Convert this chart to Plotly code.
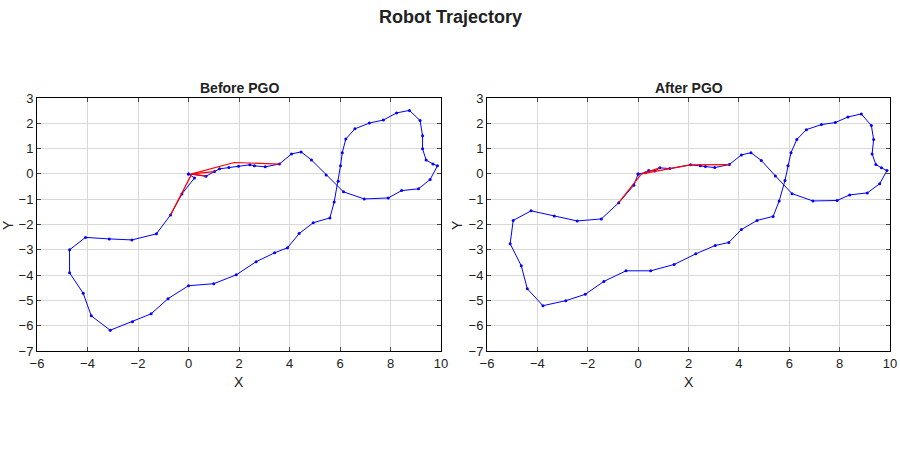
import plotly.graph_objects as go

before_x = [0, 0.24, -0.26, -0.71, -1.27, -2.24, -3.14, -4.08, -4.71, -4.71, -4.17, -3.85, -3.10, -2.22, -1.48, -0.81, 0, 1.0, 1.89, 2.68, 3.41, 3.92, 4.38, 4.94, 5.60, 5.77, 5.93, 6.02, 6.09, 6.23, 6.59, 7.16, 7.72, 8.24, 8.75, 9.17, 9.27, 9.27, 9.41, 9.68, 9.86, 9.57, 9.11, 8.44, 7.91, 6.96, 6.14, 5.45, 4.87, 4.46, 4.08, 3.60, 3.04, 2.61, 2.43, 1.98, 1.6, 1.23, 1.03, 0.69, 0]
before_y = [0, -0.16, -0.79, -1.62, -2.37, -2.61, -2.57, -2.51, -3.0, -3.91, -4.72, -5.61, -6.18, -5.84, -5.53, -4.93, -4.42, -4.34, -3.99, -3.47, -3.12, -2.92, -2.36, -1.93, -1.74, -1.11, -0.29, 0.32, 0.84, 1.38, 1.78, 2.01, 2.13, 2.41, 2.51, 2.11, 1.51, 0.99, 0.55, 0.39, 0.32, -0.22, -0.59, -0.66, -0.95, -0.99, -0.71, -0.04, 0.55, 0.87, 0.79, 0.39, 0.28, 0.32, 0.36, 0.30, 0.25, 0.20, 0.09, -0.09, 0]
before_red_x = [-0.71, 0.13, 1.03, None, 0.13, 1.81, 3.60, None, 0.13, 0.69]
before_red_y = [-1.62, 0.0, 0.09, None, 0.0, 0.45, 0.39, None, 0.0, -0.09]

after_x = [0, -0.17, -0.77, -1.46, -2.42, -3.33, -4.25, -4.96, -5.08, -4.64, -4.40, -3.78, -2.87, -2.10, -1.36, -0.48, 0.50, 1.43, 2.29, 3.06, 3.60, 4.10, 4.72, 5.36, 5.60, 5.83, 5.95, 6.07, 6.30, 6.68, 7.28, 7.83, 8.33, 8.86, 9.26, 9.35, 9.29, 9.44, 9.66, 9.88, 9.59, 9.10, 8.40, 7.90, 6.94, 6.11, 5.45, 4.89, 4.48, 4.10, 3.62, 3.04, 2.67, 2.47, 2.08, 1.26, 0.86, 0.66, 0.42, 0.29, 0]
after_y = [0, -0.45, -1.14, -1.78, -1.86, -1.66, -1.46, -1.84, -2.76, -3.63, -4.54, -5.21, -5.01, -4.76, -4.25, -3.83, -3.83, -3.58, -3.16, -2.83, -2.71, -2.20, -1.84, -1.68, -1.07, -0.26, 0.32, 0.84, 1.36, 1.75, 1.95, 2.03, 2.25, 2.37, 1.91, 1.36, 0.79, 0.37, 0.24, 0.13, -0.39, -0.75, -0.83, -1.05, -1.07, -0.78, -0.08, 0.53, 0.84, 0.75, 0.37, 0.25, 0.29, 0.32, 0.36, 0.21, 0.24, 0.11, 0.13, 0.05, 0]
after_red_x = [-0.77, 0.13, 0.86, None, 0.13, 2.08, 3.62]
after_red_y = [-1.14, 0.0, 0.24, None, 0.0, 0.36, 0.37]

FONT = "Liberation Sans, Arial, sans-serif"
L, R, T, B = 37, 890, 98, 351
def px(x): return (x - L) / (R - L)
def py(y): return (B - y) / (B - T)

fig = go.Figure()
for i, (bx, by, rx, ry) in enumerate([(before_x, before_y, before_red_x, before_red_y),
                                        (after_x, after_y, after_red_x, after_red_y)]):
    sfx = "" if i == 0 else "2"
    fig.add_trace(go.Scatter(x=bx, y=by, mode="lines+markers", xaxis="x" + sfx, yaxis="y" + sfx,
                             line=dict(color="blue", width=1), marker=dict(color="blue", size=3),
                             showlegend=False))
    fig.add_trace(go.Scatter(x=rx, y=ry, mode="lines", xaxis="x" + sfx, yaxis="y" + sfx,
                             line=dict(color="red", width=1.2), showlegend=False))

ax = dict(showline=True, linecolor="black", linewidth=1, mirror="ticks", ticks="inside", ticklen=4,
          showgrid=True, gridcolor="#d9d9d9", zeroline=False, tickfont=dict(size=13, color="#222"),
          automargin=False)
ann = lambda t, x, y, s, **k: dict(text=t, x=px(x), y=py(y), xref="paper", yref="paper",
                                   xanchor="center", yanchor="middle",
                                   showarrow=False, font=dict(size=s), **k)
fig.update_layout(
    width=900, height=450, paper_bgcolor="white", plot_bgcolor="white",
    margin=dict(l=L, r=900 - R, t=T, b=450 - B), font=dict(family=FONT, color="#222"),
    xaxis=dict(ax, domain=[0, px(441)], range=[-6, 10], dtick=2, anchor="y"),
    yaxis=dict(ax, domain=[0, 1], range=[-7, 3], dtick=1, anchor="x"),
    xaxis2=dict(ax, domain=[px(487), 1], range=[-6, 10], dtick=2, anchor="y2"),
    yaxis2=dict(ax, domain=[0, 1], range=[-7, 3], dtick=1, anchor="x2"),
    annotations=[
        ann("<b>Robot Trajectory</b>", 450, 17, 18),
        ann("<b>Before PGO</b>", 239, 88, 14),
        ann("<b>After PGO</b>", 689, 88, 14),
        ann("X", 239, 382, 14),
        ann("X", 689, 382, 14),
        ann("Y", 8, 225, 14, textangle=-90),
        ann("Y", 457, 225, 14, textangle=-90),
    ],
)
fig.write_html("out.html", config={"displayModeBar": False},
               post_script="document.body.style.margin='0';")
